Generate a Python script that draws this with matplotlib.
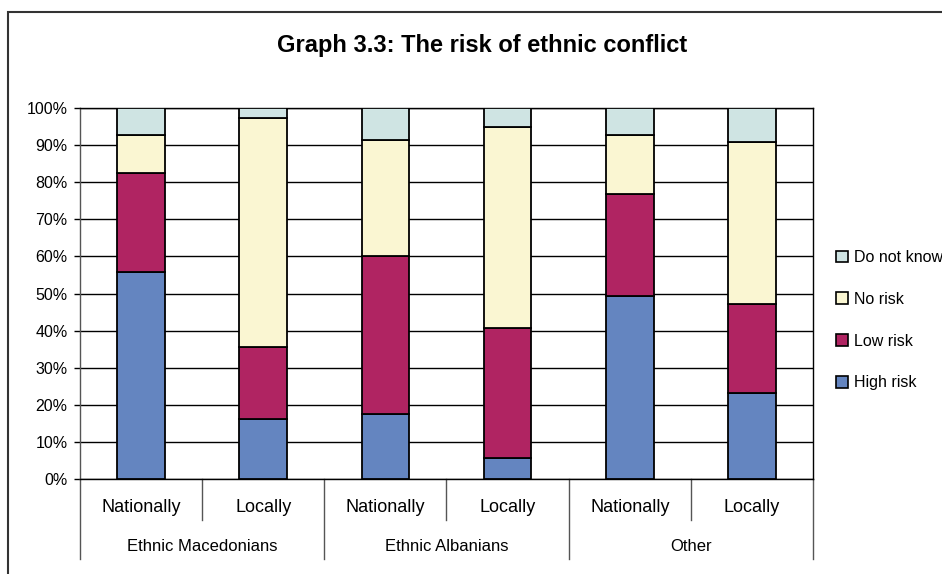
import numpy as np
import matplotlib
matplotlib.use('Agg')
import matplotlib.pyplot as plt
from matplotlib.patches import Rectangle, Patch

plt.rcParams['font.family'] = ['Liberation Sans', 'DejaVu Sans']

# survey answers, share of respondents (%)
categories = ['Nationally', 'Locally', 'Nationally', 'Locally', 'Nationally', 'Locally']
groups = ['Ethnic Macedonians', 'Ethnic Albanians', 'Other']
high_risk = [55.7, 16.1, 17.5, 5.6, 49.2, 23.1]
low_risk = [26.8, 19.6, 42.6, 35.0, 27.7, 24.1]
no_risk = [10.3, 61.6, 31.4, 54.2, 15.9, 43.6]
do_not_know = [7.2, 2.7, 8.5, 5.2, 7.2, 9.2]

series = [('High risk', high_risk, '#6485c0'),
          ('Low risk', low_risk, '#b02462'),
          ('No risk', no_risk, '#faf6d2'),
          ('Do not know', do_not_know, '#cfe4e3')]

fig = plt.figure(figsize=(9.42, 5.74), dpi=100)
ax = fig.add_axes([80/942, 1-479/574, (813-80)/942, (479-108)/574])

x = np.arange(len(categories))
bottom = np.zeros(len(categories))
for name, vals, col in series:
    ax.bar(x, vals, width=0.39, bottom=bottom, color=col, edgecolor='black',
           linewidth=1.3, zorder=3)
    bottom += np.array(vals)

ax.set_xlim(-0.5, len(categories) - 0.5)
ax.set_ylim(0, 100)
ax.set_yticks(np.arange(0, 101, 10))
ax.set_yticklabels([f'{v}%' for v in range(0, 101, 10)], fontsize=11.5)
ax.tick_params(axis='y', length=4, width=1, pad=5)
ax.set_xticks([])
ax.grid(axis='y', color='black', linewidth=1, zorder=0)
for s in ax.spines.values():
    s.set_color('black')
    s.set_linewidth(1)
ax.spines['left'].set_color('#555555')

# two-level category axis
trans = ax.get_xaxis_transform()
for i, lab in enumerate(categories):
    ax.text(i, -0.0755, lab, transform=trans, ha='center', va='center', fontsize=13)
for j, g in enumerate(groups):
    ax.text(2*j + 0.5, -0.183, g, transform=trans, ha='center', va='center', fontsize=12)
for b in np.arange(-0.5, len(categories), 1.0):
    low = -0.2156 if (b + 0.5) % 2 == 0 else -0.1105
    ax.plot([b, b], [0, low], transform=trans, color='#555555', linewidth=1, clip_on=False)

fig.text(0.512, 0.92, 'Graph 3.3: The risk of ethnic conflict', ha='center', va='center',
         fontsize=17, fontweight='bold')

handles = [Patch(facecolor=col, edgecolor='black', linewidth=1.2, label=name)
           for name, vals, col in series[::-1]]
fig.legend(handles=handles, loc='upper left', bbox_to_anchor=(836/942, 1-250/574),
           frameon=False, fontsize=11.5, handlelength=0.75, handleheight=0.75,
           handletextpad=0.35, labelspacing=1.68, borderpad=0, borderaxespad=0)

# outer chart frame
fig.patches.append(Rectangle((8/942, -0.1), 1.0, 1.1 - 12/574, transform=fig.transFigure,
                             fill=False, edgecolor='#333333', linewidth=1.5))

fig.savefig('out.png', dpi=100)
